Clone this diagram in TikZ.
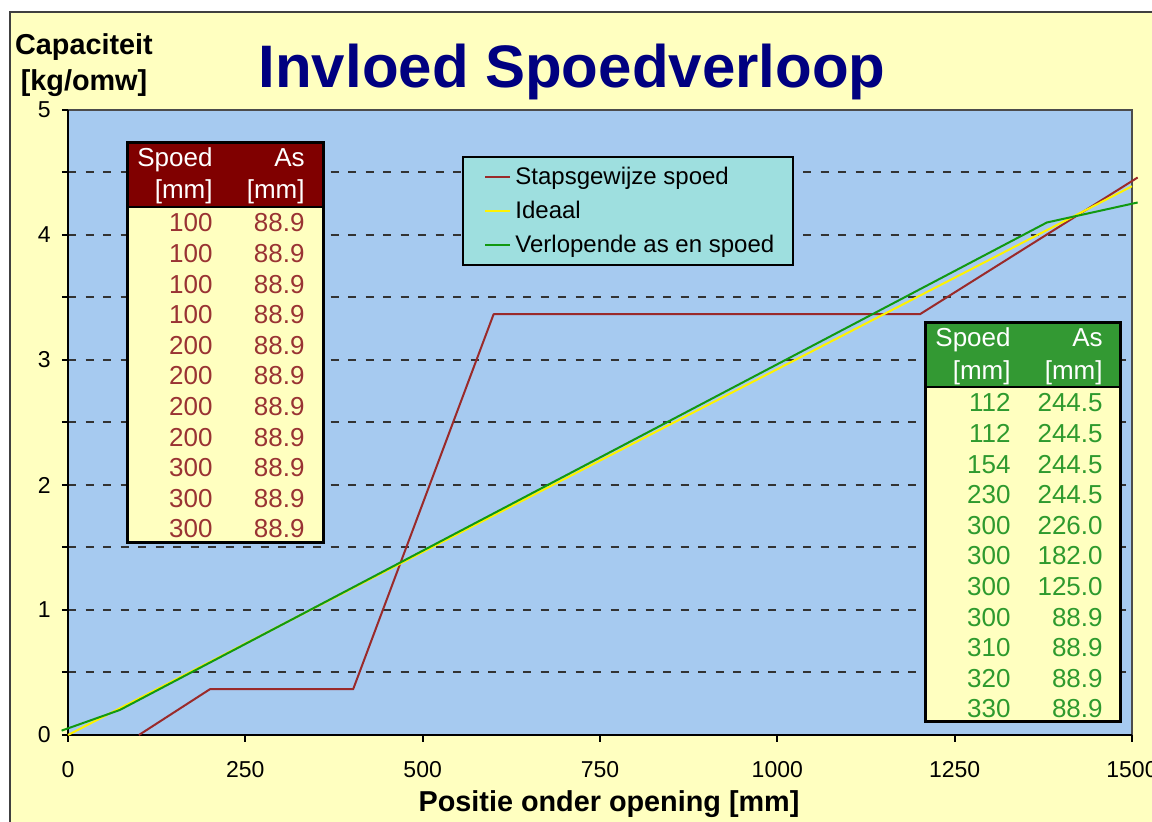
\documentclass[tikz,border=0pt]{standalone}
\usepackage{fontspec}
\setmainfont{Liberation Sans}
\definecolor{chartbg}{HTML}{FFFFC0}
\definecolor{plotbg}{HTML}{A6CAF0}
\definecolor{legendbg}{HTML}{9EDFDF}
\definecolor{titlenavy}{HTML}{000080}
\definecolor{hdrred}{HTML}{800000}
\definecolor{txtred}{HTML}{993333}
\definecolor{hdrgreen}{HTML}{339933}
\definecolor{txtgreen}{HTML}{2E9A2E}
\definecolor{linered}{HTML}{9A2A2A}
\definecolor{linegreen}{HTML}{119911}
\begin{document}
\begin{tikzpicture}[x=0.5pt, y=-0.5pt,
		ticklabel/.style={font=\fontsize{11.5}{13}\selectfont, inner sep=0pt},
		axistitle/.style={font=\fontsize{14.4}{17}\selectfont\bfseries, inner sep=0pt, anchor=base},
		cell/.style={font=\fontsize{13}{15}\selectfont, inner sep=0pt, anchor=base east},
		legendtext/.style={font=\fontsize{12}{14}\selectfont, inner sep=0pt, anchor=base west},
		gridline/.style={dash pattern=on 4pt off 4.75pt, line width=1pt, black!80},
		series/.style={line width=1pt, line join=round}]
		\useasboundingbox (0,0) rectangle (1152,822);
		\fill[white] (0,0) rectangle (1152,822);
		\draw[black!75, line width=1pt, fill=chartbg] (10,12) rectangle (1170,840);

		% TITLES
		\node[font=\fontsize{30}{36}\selectfont\bfseries, text=titlenavy, anchor=base, inner sep=0pt] (title) at (572,88) {Invloed Spoedverloop};
		\node[axistitle] (ytitle1) at (84,55) {Capaciteit};
		\node[axistitle] (ytitle2) at (84,91) {[kg/omw]};
		\node[axistitle] (xtitle) at (609,812) {Positie onder opening [mm]};

		% PLOT AREA
		\draw[black!70, line width=0.75pt, fill=plotbg] (68,110) rectangle (1132,735);
		\begin{scope}[xshift=34pt, yshift=-367.5pt, x=0.354667pt, y=62.5pt]
			\foreach \v in {0.5,1,...,4.5}
				\draw[gridline] (0,\v) -- (1500,\v);
			\foreach \v in {0,0.5,...,5}
				\draw[black, line width=1pt] (-8.46,\v) -- (0,\v);
			\foreach \v in {0,...,5}
				\node[ticklabel, anchor=east] (yl\v) at (-24,\v) {\v};
			\foreach \m in {0,250,...,1500} {
				\draw[black, line width=1pt] (\m,0) -- (\m,-0.056);
				\node[ticklabel] (xl\m) at (\m,-0.28) {\m};
			}
			\draw[black, line width=1.2pt] (0,5) -- (0,0) -- (1500,0);

			% SERIES
			\draw[series, linered] (100,0) -- (200,0.366) -- (402,0.366) -- (600,3.366) -- (1201,3.366) -- (1508,4.46);
			\draw[series, yellow] (0,0) -- (1500,4.39);
			\draw[series, linegreen] (-9,0.035) -- (73,0.2) -- (1380,4.1) -- (1508,4.26);
		\end{scope}

		% LEGEND
		\draw[black, line width=0.75pt, fill=legendbg] (463,157) rectangle (793,265);
		\draw[series, linered] (485,177) -- (510,177);
		\draw[series, yellow] (485,211) -- (510,211);
		\draw[series, linegreen] (485,245) -- (510,245);
		\node[legendtext] (lgstap) at (515,185) {Stapsgewijze spoed};
		\node[legendtext] (lgideaal) at (515,219) {Ideaal};
		\node[legendtext] (lgverl) at (515,253) {Verlopende as en spoed};

		% TABLE STAPSGEWIJZE SPOED
		\fill[chartbg] (127,143) rectangle (323,543);
		\fill[hdrred] (127,143) rectangle (323,207);
		\draw[black, line width=1.5pt] (127,143) rectangle (323,543);
		\draw[black, line width=1pt] (127,207) -- (323,207);
		\node[cell, anchor=base west, white] (lhsp) at (137,167) {Spoed};
		\node[cell, white] (lhas) at (305,167) {As};
		\node[cell, white] (lhspu) at (213,199) {[mm]};
		\node[cell, white] (lhasu) at (305,199) {[mm]};
		\foreach \sp [count=\i from 0] in {100,100,100,100,200,200,200,200,300,300,300} {
			\node[cell, txtred] (lsp\i) at (213,{232+30.6*\i}) {\sp};
			\node[cell, txtred] (las\i) at (305,{232+30.6*\i}) {88.9};
		}

		% TABLE VERLOPENDE AS EN SPOED
		\fill[chartbg] (925,323) rectangle (1120,722);
		\fill[hdrgreen] (925,323) rectangle (1120,387);
		\draw[black, line width=1.5pt] (925,323) rectangle (1120,722);
		\draw[black, line width=1pt] (925,387) -- (1120,387);
		\node[cell, anchor=base west, white] (rhsp) at (935,347) {Spoed};
		\node[cell, white] (rhas) at (1103,347) {As};
		\node[cell, white] (rhspu) at (1011,380) {[mm]};
		\node[cell, white] (rhasu) at (1103,380) {[mm]};
		\foreach \sp/\as [count=\i from 0] in {112/244.5,112/244.5,154/244.5,230/244.5,300/226.0,300/182.0,300/125.0,300/88.9,310/88.9,320/88.9,330/88.9} {
			\node[cell, txtgreen] (rsp\i) at (1011,{412+30.6*\i}) {\sp};
			\node[cell, txtgreen] (ras\i) at (1103,{412+30.6*\i}) {\as};
		}
	\end{tikzpicture}
\end{document}
